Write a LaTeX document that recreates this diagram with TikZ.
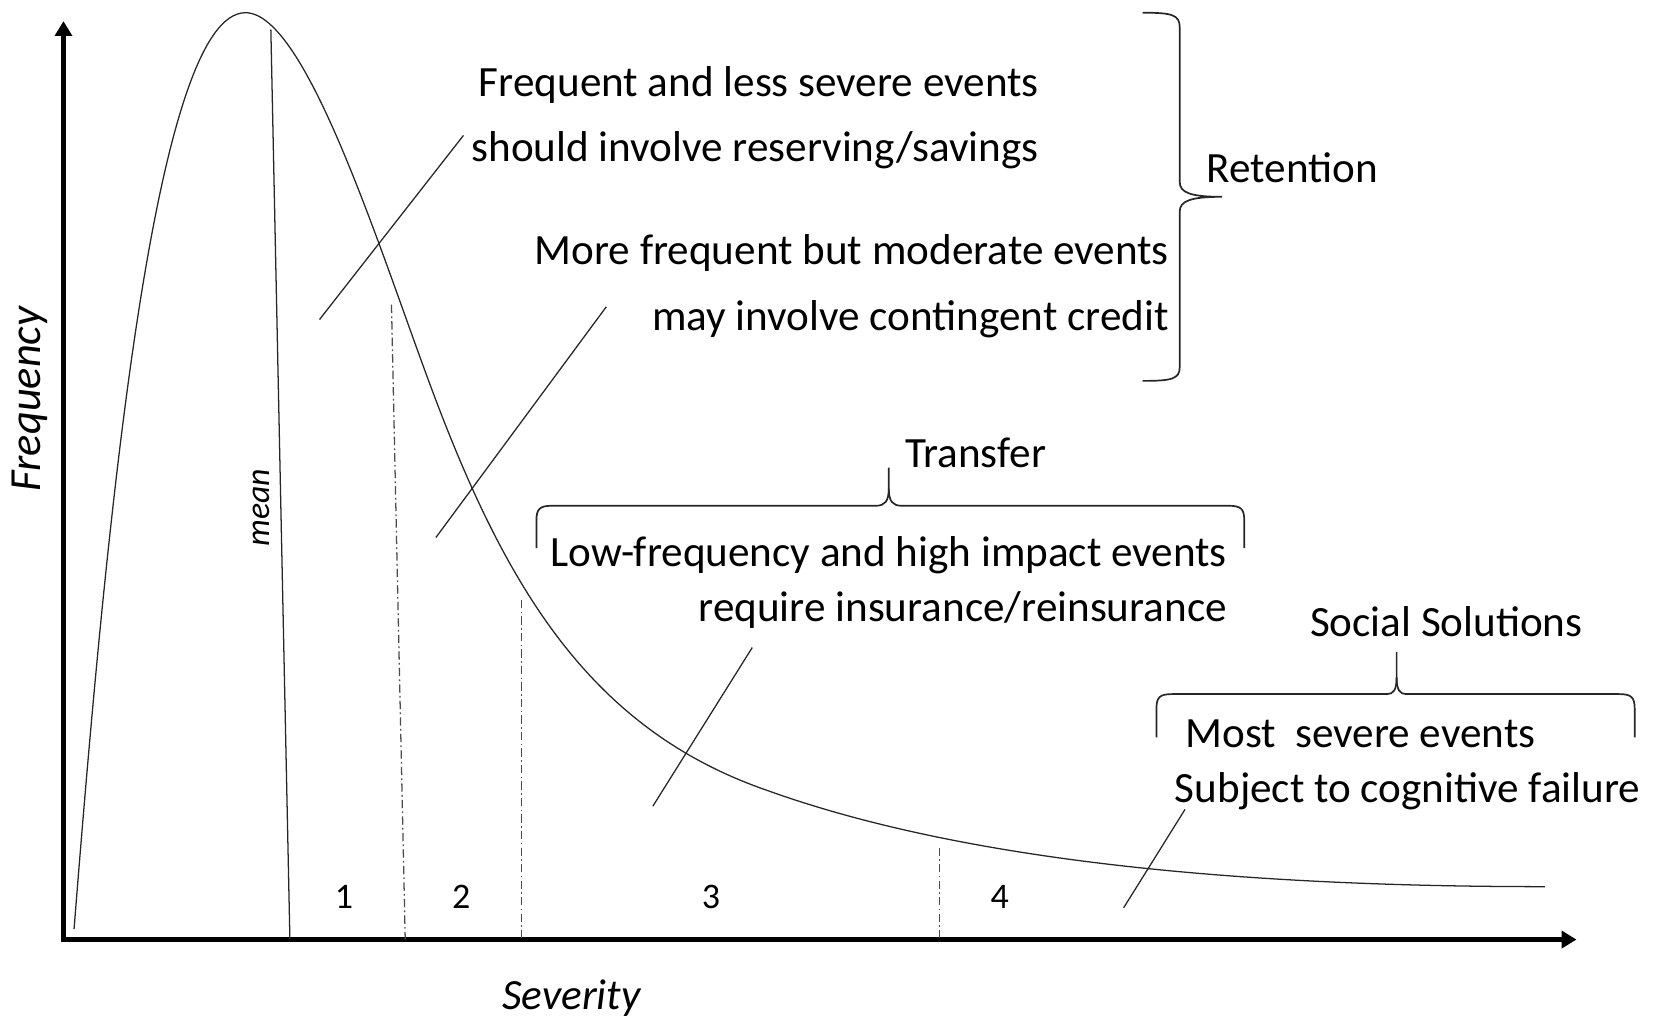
\documentclass[tikz,border=0pt]{standalone}
\usepackage{fontspec}
\setmainfont{Carlito}
\usetikzlibrary{arrows.meta}
\begin{document}
\begin{tikzpicture}[x=0.5pt,y=-0.5pt,
  txt/.style={font=\fontsize{20.4}{24}\selectfont, inner sep=0pt},
  ital/.style={font=\fontsize{20.4}{24}\selectfont\itshape, inner sep=0pt},
  meanlbl/.style={font=\fontsize{16}{19}\selectfont\itshape, inner sep=0pt},
  num/.style={font=\fontsize{17}{20}\selectfont, inner sep=0pt},
  axisline/.style={line width=2.6pt, line join=miter, {Triangle[length=7pt,width=8pt]}-{Triangle[length=7pt,width=8pt]}},
  thinline/.style={line width=0.6pt, black!85},
  divider/.style={line width=0.6pt, black!70, dash pattern=on 4pt off 1.5pt on 0.8pt off 1.5pt},
  bracepath/.style={line width=0.8pt, black!85}]
\useasboundingbox (0,0) rectangle (1568,965);
% axes
\coordinate (O) at (60,888);
\coordinate (ytip) at (60,20);
\coordinate (xtip) at (1490,888);
\draw[axisline] (ytip) -- (O) -- (xtip);
% distribution curve
\coordinate (c0) at (70,878);
\coordinate (peak) at (232,12);
\coordinate (c2) at (410,373);
\coordinate (c3) at (725,747);
\coordinate (cend) at (1460,838);
\draw[thinline] (c0) .. controls (100,500) and (145,12) .. (peak)
  .. controls (290,12) and (360,240) .. (c2)
  .. controls (480,559) and (560,690) .. (c3)
  .. controls (900,810) and (1150,838) .. (cend);
% mean line
\coordinate (meantop) at (256,28);
\coordinate (meanbot) at (274,888);
\draw[thinline] (meantop) -- (meanbot);
\node[meanlbl, rotate=90] (mean) at (247,480) {mean};
% dividers
\coordinate (d1t) at (370,288); \coordinate (d1b) at (383,888);
\coordinate (d2t) at (493,567); \coordinate (d2b) at (493,888);
\coordinate (d3t) at (888,801); \coordinate (d3b) at (888,888);
\draw[divider] (d1t) -- (d1b);
\draw[divider] (d2t) -- (d2b);
\draw[divider] (d3t) -- (d3b);
% region numbers
\node[num] (n1) at (325,848) {1};
\node[num] (n2) at (436,848) {2};
\node[num] (n3) at (672,848) {3};
\node[num] (n4) at (945,848) {4};
% axis labels
\node[ital, rotate=90, font=\fontsize{21}{24}\selectfont\itshape] (freq) at (28,377) {Frequency};
\node[ital] (sev) at (540,943) {Severity};
% texts
\node[txt, anchor=mid east] (t1) at (982,86) {Frequent and less severe events};
\node[txt, anchor=mid east] (t2) at (982,148) {should involve reserving/savings};
\node[txt, anchor=mid east] (t3) at (1105,245) {More frequent but moderate events};
\node[txt, anchor=mid east] (t4) at (1105,308) {may involve contingent credit};
\node[txt, anchor=mid west] (ret) at (1140,168) {Retention};
\node[txt, anchor=mid west] (tra) at (855,437) {Transfer};
\node[txt, anchor=mid east] (t5) at (1160,531) {Low-frequency and high impact events};
\node[txt, anchor=mid east] (t6) at (1160,583) {require insurance/reinsurance};
\node[txt] (soc) at (1367,588) {Social Solutions};
\node[txt, anchor=mid west] (t7) at (1120,702) {Most\ \ severe events};
\node[txt, anchor=mid west] (t8) at (1110,754) {Subject to cognitive failure};
% pointer lines
\coordinate (p1a) at (302,302); \coordinate (p1b) at (438,128);
\coordinate (p2a) at (412,508); \coordinate (p2b) at (573,290);
\coordinate (p3a) at (617,762); \coordinate (p3b) at (711,612);
\coordinate (p4a) at (1062,858); \coordinate (p4b) at (1120,765);
\draw[thinline] (p1a) -- (p1b);
\draw[thinline] (p2a) -- (p2b);
\draw[thinline] (p3a) -- (p3b);
\draw[thinline] (p4a) -- (p4b);
% Retention brace
\draw[bracepath] (1080,12) .. controls (1108,12) and (1115,14) .. (1115,26) -- (1115,172)
  .. controls (1115,182) and (1125,186) .. (1155,186)
  .. controls (1125,186) and (1115,190) .. (1115,200) -- (1115,347)
  .. controls (1115,358) and (1108,360) .. (1080,360);
% Transfer brace
\draw[bracepath] (507,518) -- (507,492) .. controls (507,481) and (510,478) .. (522,478) -- (828,478)
  .. controls (836,478) and (840,474) .. (840,462) -- (840,442);
\draw[bracepath] (840,462) .. controls (840,474) and (844,478) .. (852,478) -- (1161,478)
  .. controls (1173,478) and (1176,481) .. (1176,492) -- (1176,518);
% Social brace
\draw[bracepath] (1093,697) -- (1093,670) .. controls (1093,659) and (1096,656) .. (1108,656) -- (1311,656)
  .. controls (1317,656) and (1320,652) .. (1320,640) -- (1320,616);
\draw[bracepath] (1320,640) .. controls (1320,652) and (1323,656) .. (1329,656) -- (1530,656)
  .. controls (1542,656) and (1545,659) .. (1545,670) -- (1545,697);
\end{tikzpicture}
\end{document}
